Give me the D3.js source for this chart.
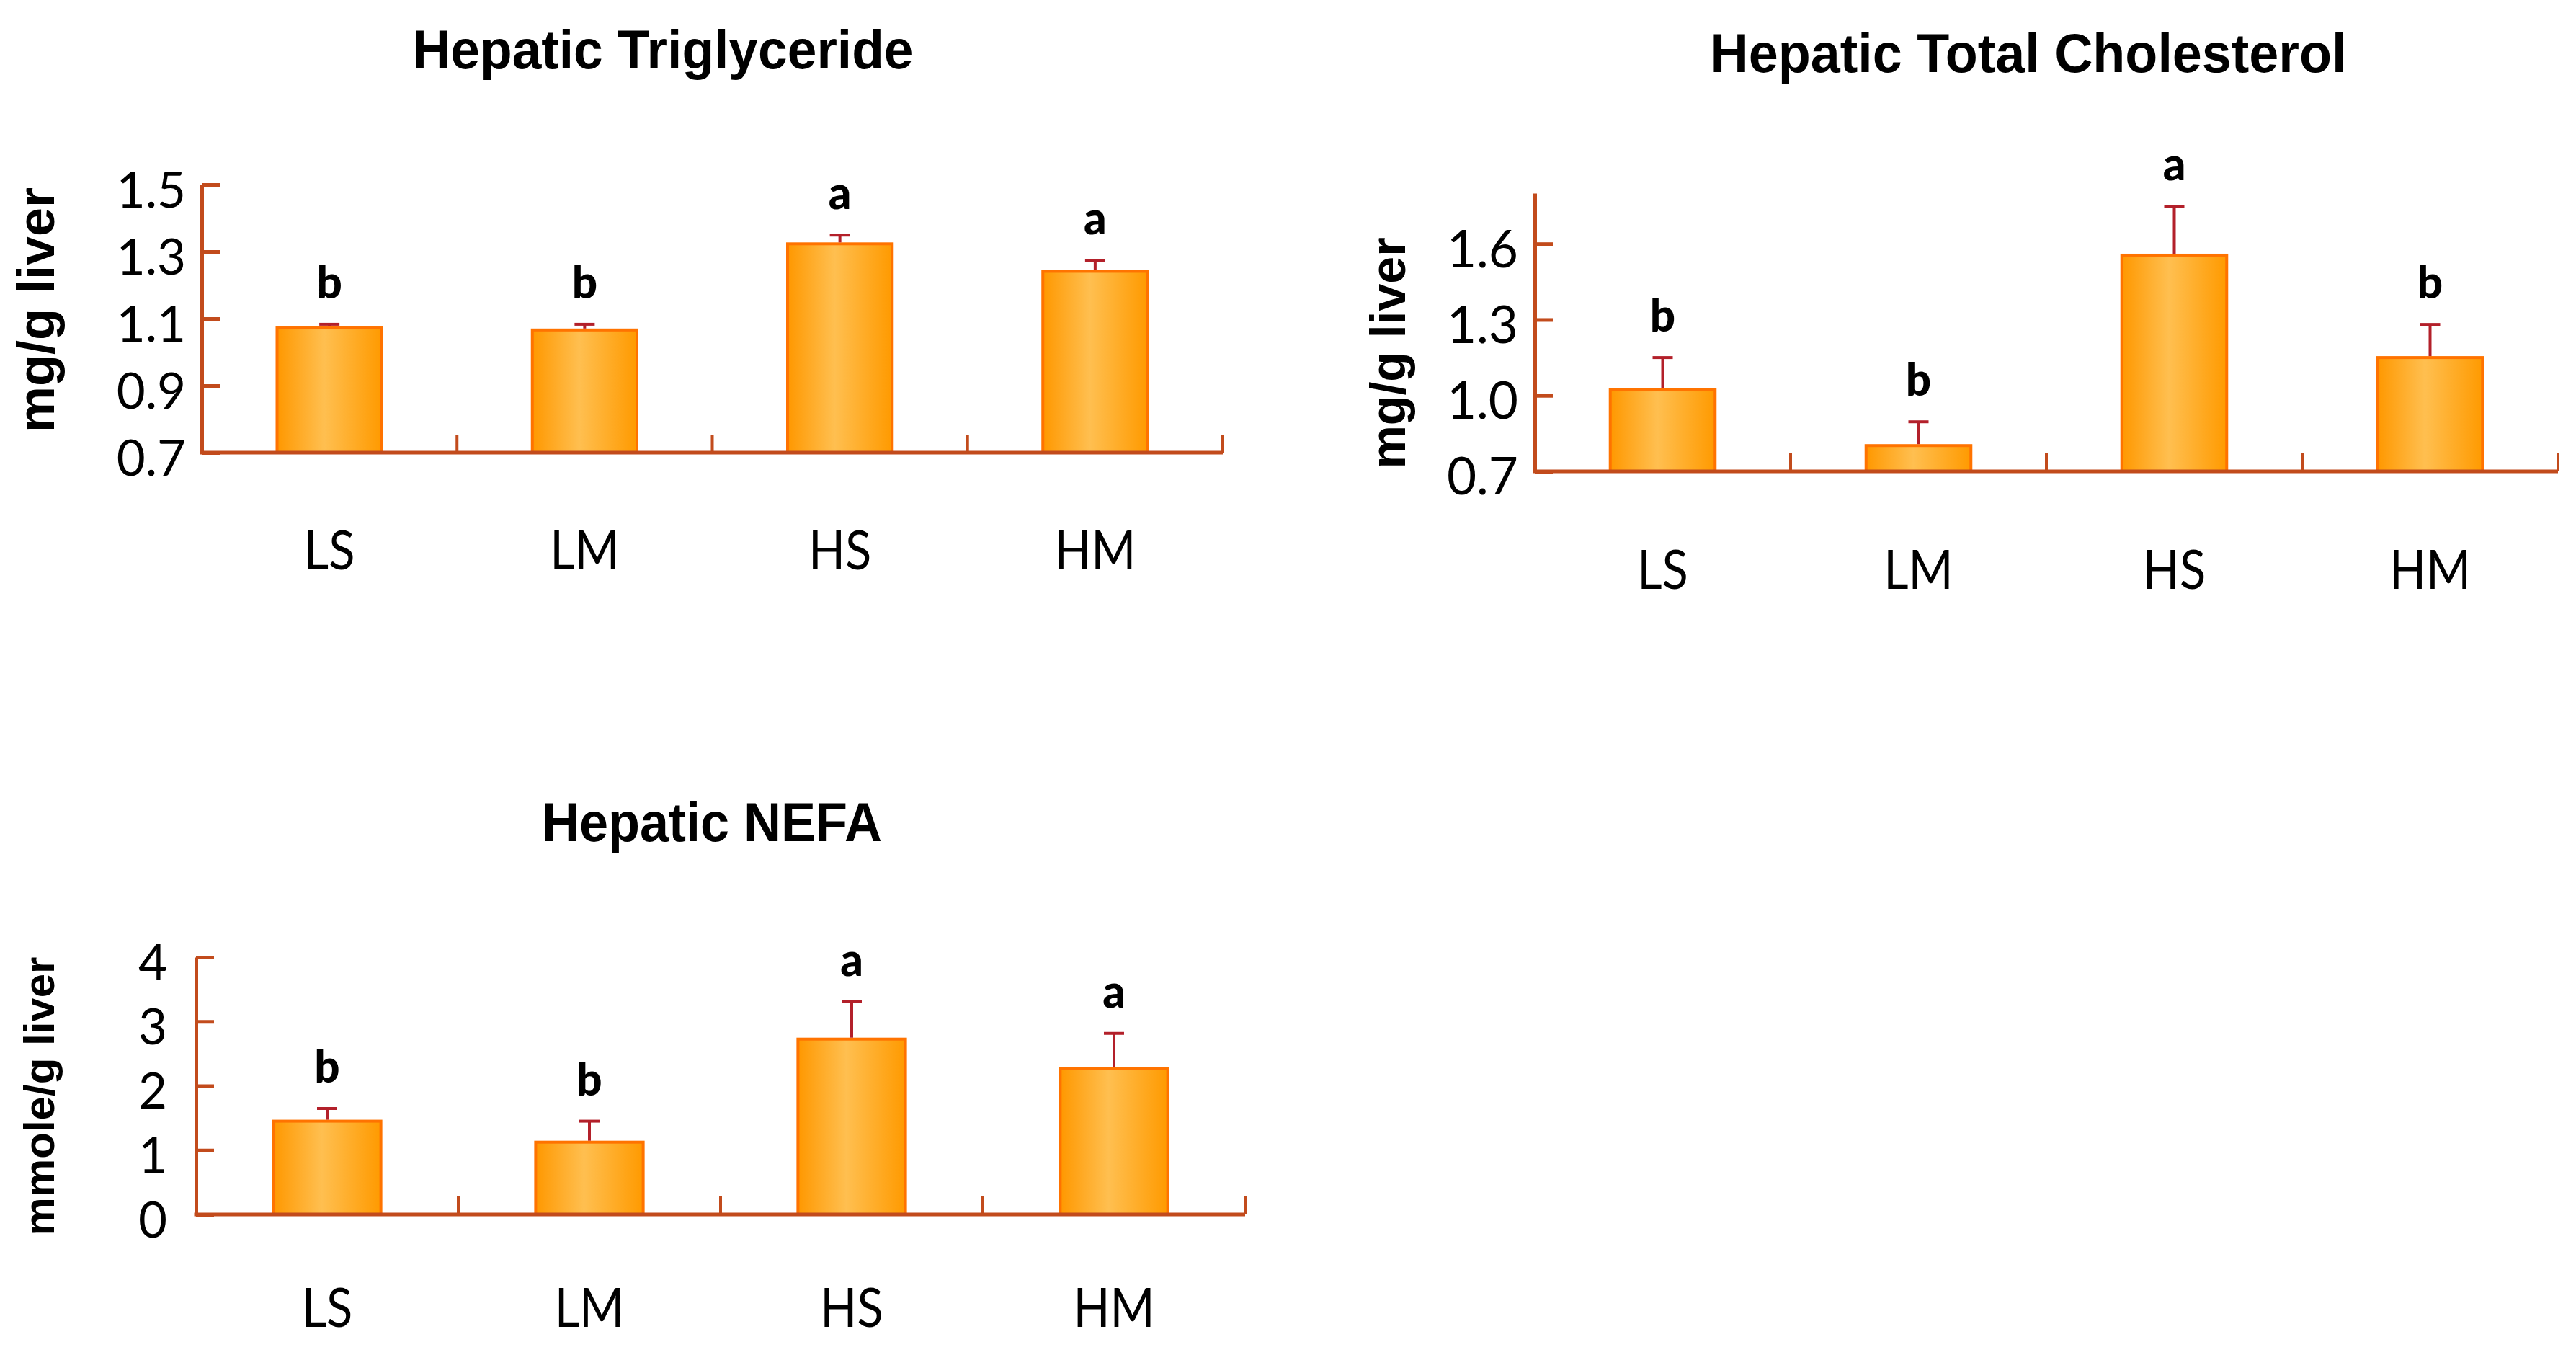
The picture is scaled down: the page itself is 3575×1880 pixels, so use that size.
<!DOCTYPE html>
<html>
<head>
<meta charset="utf-8">
<script src="https://cdn.jsdelivr.net/npm/d3@7"></script>
<style>
	body { margin: 0; background: #fff; }
	svg { display: block; }
</style>
</head>
<body>
<div id="chart"></div>
<script>
// values
const groups = ["LS", "LM", "HS", "HM"];

const tgMean = [1.072, 1.066, 1.323, 1.241];
const tgErr = [0.011, 0.017, 0.026, 0.033];
const tgLetters = ["b", "b", "a", "a"];
const tgTicks = [0.7, 0.9, 1.1, 1.3, 1.5];

const tcMean = [1.022, 0.802, 1.555, 1.150];
const tcErr = [0.128, 0.094, 0.193, 0.131];
const tcLetters = ["b", "b", "a", "b"];
const tcTicks = [0.7, 1.0, 1.3, 1.6];

const nefaMean = [1.45, 1.124, 2.726, 2.269];
const nefaErr = [0.197, 0.326, 0.58, 0.546];
const nefaLetters = ["b", "b", "a", "a"];
const nefaTicks = [0, 1, 2, 3, 4];

const axisColor = "#c24b1c";
const errColor = "#b3202a";

const svg = d3.select("#chart")
	.append("svg")
	.attr("width", 3575)
	.attr("height", 1880);

// bar gradient, darker orange at the sides
const grad = svg.append("defs")
	.append("linearGradient")
	.attr("id", "barGrad")
	.attr("x1", "0").attr("x2", "1")
	.attr("y1", "0").attr("y2", "0");
grad.append("stop").attr("offset", "0%").attr("stop-color", "#ff9800");
grad.append("stop").attr("offset", "45%").attr("stop-color", "#ffbf50");
grad.append("stop").attr("offset", "100%").attr("stop-color", "#ff9a00");

function drawChart(opt) {
	const g = svg.append("g");

	const x = d3.scaleBand()
		.domain(groups)
		.range(opt.xRange)
		.paddingInner(0.59)
		.paddingOuter(0.295);

	const y = d3.scaleLinear()
		.domain(opt.domain)
		.range(opt.yRange);

	const data = groups.map((k, i) => ({ k: k, m: opt.mean[i], e: opt.err[i], l: opt.letters[i] }));

	// Title
	g.append("text")
		.attr("x", opt.titleX)
		.attr("y", opt.titleY)
		.attr("text-anchor", "middle")
		.attr("textLength", opt.titleLen)
		.attr("lengthAdjust", "spacingAndGlyphs")
		.style("font-family", "'Liberation Sans', Arial, sans-serif")
		.style("font-weight", "bold")
		.style("font-size", "76px")
		.text(opt.title);

	// Y axis label
	g.append("text")
		.attr("transform", `translate(${opt.labelX},${opt.labelY}) rotate(-90)`)
		.attr("text-anchor", "middle")
		.style("font-family", "'Liberation Sans', Arial, sans-serif")
		.style("font-weight", "bold")
		.style("font-size", opt.labelSize + "px")
		.text(opt.label);

	// Bars
	g.selectAll(".bar")
		.data(data)
		.join("rect")
		.attr("class", "bar")
		.attr("x", d => x(d.k))
		.attr("y", d => y(d.m))
		.attr("width", x.bandwidth())
		.attr("height", d => y(opt.domain[0]) - y(d.m))
		.attr("fill", "url(#barGrad)")
		.attr("stroke", "#ff7300")
		.attr("stroke-width", 4);

	// Error bars (upper only)
	const eb = g.selectAll(".err")
		.data(data)
		.join("g")
		.attr("class", "err")
		.attr("stroke", errColor)
		.attr("stroke-width", 4);
	eb.append("line")
		.attr("x1", d => x(d.k) + x.bandwidth() / 2)
		.attr("x2", d => x(d.k) + x.bandwidth() / 2)
		.attr("y1", d => y(d.m) - 2)
		.attr("y2", d => y(d.m + d.e));
	eb.append("line")
		.attr("x1", d => x(d.k) + x.bandwidth() / 2 - 14)
		.attr("x2", d => x(d.k) + x.bandwidth() / 2 + 14)
		.attr("y1", d => y(d.m + d.e))
		.attr("y2", d => y(d.m + d.e));

	// Significance letters
	g.selectAll(".sig")
		.data(data)
		.join("text")
		.attr("class", "sig")
		.attr("x", d => x(d.k) + x.bandwidth() / 2)
		.attr("y", d => y(d.m + d.e) - 36)
		.attr("text-anchor", "middle")
		.style("font-family", "Lato, sans-serif")
		.style("font-weight", "900")
		.style("font-size", "62px")
		.text(d => d.l);

	// Y axis, ticks inside
	const yAxis = g.append("g")
		.attr("transform", `translate(${opt.xRange[0]},0)`)
		.call(d3.axisLeft(y)
			.tickValues(opt.ticks)
			.tickFormat(d3.format(opt.fmt))
			.tickSizeInner(-25)
			.tickSizeOuter(0)
			.tickPadding(opt.tickPad));
	yAxis.select(".domain").attr("stroke", axisColor).attr("stroke-width", 5);
	yAxis.selectAll(".tick line").attr("stroke", axisColor).attr("stroke-width", 5);
	yAxis.selectAll(".tick text")
		.attr("fill", "#000")
		.attr("dy", "0.45em")
		.style("font-family", "Lato, sans-serif")
		.style("font-size", opt.tickSize + "px");

	// X axis with group separators
	const y0 = y(opt.domain[0]);
	g.append("line")
		.attr("x1", opt.xRange[0] - 2.5)
		.attr("x2", opt.xRange[1])
		.attr("y1", y0)
		.attr("y2", y0)
		.attr("stroke", axisColor)
		.attr("stroke-width", 5);
	g.selectAll(".sep")
		.data(groups)
		.join("line")
		.attr("class", "sep")
		.attr("x1", d => x(d) + x.bandwidth() + x.step() * x.paddingInner() / 2)
		.attr("x2", d => x(d) + x.bandwidth() + x.step() * x.paddingInner() / 2)
		.attr("y1", y0)
		.attr("y2", y0 - 25)
		.attr("stroke", axisColor)
		.attr("stroke-width", 4);

	// Group names, slightly condensed like the original
	g.selectAll(".cat")
		.data(groups)
		.join("text")
		.attr("class", "cat")
		.attr("transform", d => `translate(${x(d) + x.bandwidth() / 2},${opt.catY}) scale(0.88,1)`)
		.attr("text-anchor", "middle")
		.style("font-family", "Lato, sans-serif")
		.style("font-size", "76px")
		.text(d => d);
}

drawChart({
	title: "Hepatic Triglyceride", titleX: 920, titleY: 95, titleLen: 695,
	label: "mg/g liver", labelX: 75, labelY: 430, labelSize: 72,
	mean: tgMean, err: tgErr, letters: tgLetters, ticks: tgTicks, fmt: ".1f",
	domain: [0.7, 1.5], xRange: [280, 1697], yRange: [628, 256],
	tickPad: 22, tickSize: 69, catY: 790
});

drawChart({
	title: "Hepatic Total Cholesterol", titleX: 2815, titleY: 100, titleLen: 883,
	label: "mg/g liver", labelX: 1950, labelY: 490, labelSize: 68,
	mean: tcMean, err: tcErr, letters: tcLetters, ticks: tcTicks, fmt: ".1f",
	domain: [0.7, 1.8], xRange: [2130, 3550], yRange: [654, 268],
	tickPad: 23, tickSize: 71, catY: 817
});

drawChart({
	title: "Hepatic NEFA", titleX: 988, titleY: 1167, titleLen: 472,
	label: "mmole/g liver", labelX: 75, labelY: 1521, labelSize: 60,
	mean: nefaMean, err: nefaErr, letters: nefaLetters, ticks: nefaTicks, fmt: "d",
	domain: [0, 4], xRange: [272, 1728], yRange: [1685, 1328],
	tickPad: 40, tickSize: 69, catY: 1841
});
</script>
</body>
</html>
